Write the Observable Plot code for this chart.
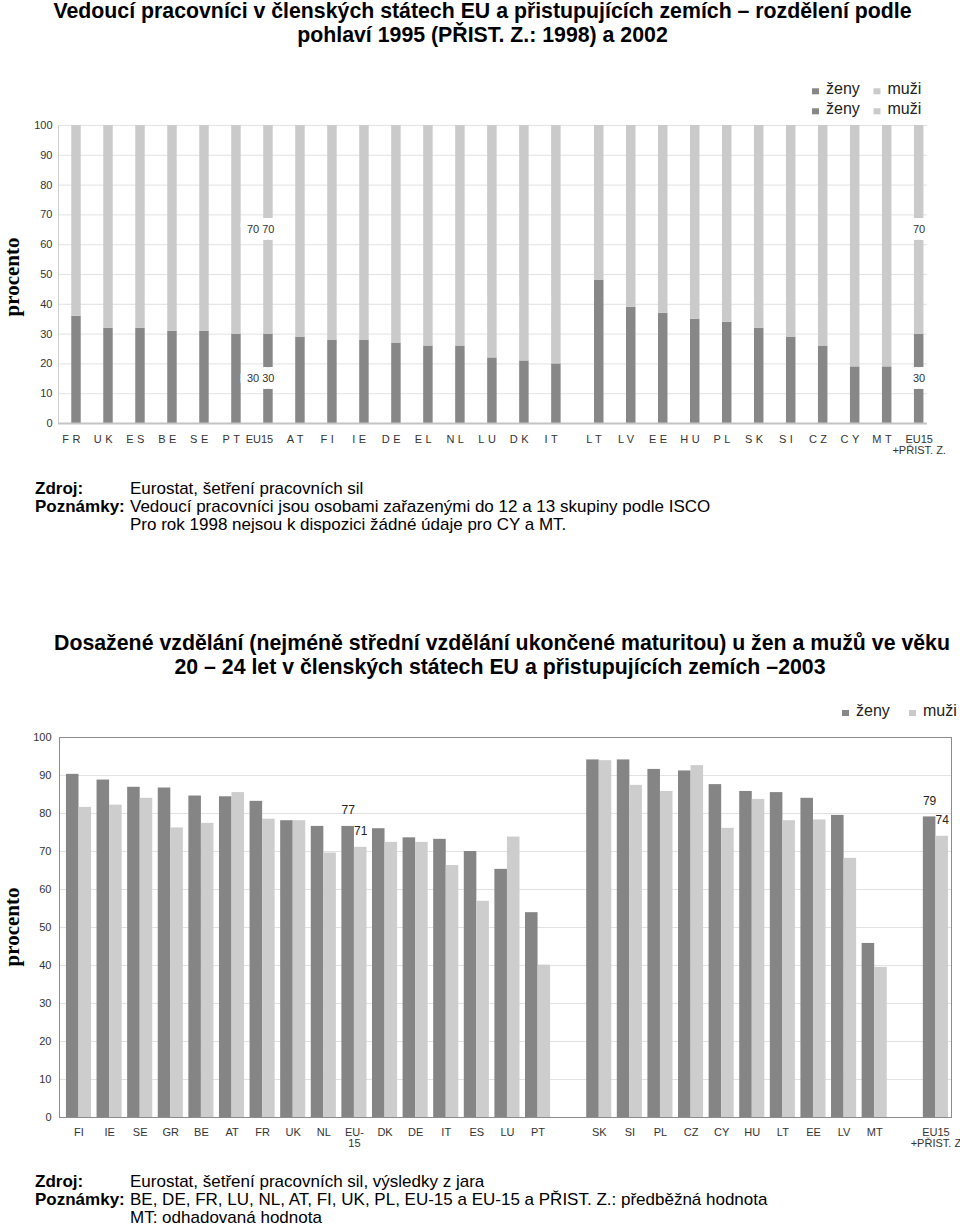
<!DOCTYPE html>
<html><head><meta charset="utf-8">
<script src="https://cdn.jsdelivr.net/npm/d3@7"></script>
<script src="https://cdn.jsdelivr.net/npm/@observablehq/plot@0.6"></script>
<style>
html,body{margin:0;padding:0;background:#fff;}
body{width:960px;height:1227px;position:relative;overflow:hidden;font-family:"Liberation Sans",Arial,sans-serif;}
.chart{position:absolute;left:0;}
#txt{position:absolute;left:0;top:0;pointer-events:none;}
</style></head><body>
<div id="c1" class="chart" style="top:115px"></div>
<div id="c2" class="chart" style="top:725px"></div>
<svg id="txt" width="960" height="1227"></svg>
<script>
// ---------------- Chart 1 data: managers by sex ----------------
const eu1 = ["FR","UK","ES","BE","SE","PT","EU15","AT","FI","IE","DE","EL","NL","LU","DK","IT"];
const acc1 = ["LT","LV","EE","HU","PL","SK","SI","CZ","CY","MT"];
const total1 = "EU15\n+PŘIST. Z.";
const women1 = [36,32,32,31,31,30,30,29,28,28,27,26,26,22,21,20, 48,39,37,35,34,32,29,26,19,19, 30];
const men1   = [64,68,68,69,69,70,70,71,72,72,73,74,74,78,79,80, 52,61,63,65,66,68,71,74,81,81, 70];
const labeled1 = ["EU15", total1];
const labelWomen1 = ["30 30", "30"];
const labelMen1 = ["70 70", "70"];

// ---------------- Chart 2 data: education attainment 2003 ----------------
const eu2 = ["FI","IE","SE","GR","BE","AT","FR","UK","NL","EU-\n15","DK","DE","IT","ES","LU","PT"];
const acc2 = ["SK","SI","PL","CZ","CY","HU","LT","EE","LV","MT"];
const total2 = "EU15\n+PŘIST. Z";
const women2 = [90.3,88.8,86.9,86.7,84.6,84.4,83.2,78.1,76.6,76.6,76.0,73.6,73.2,70.0,65.3,53.9, 94.1,94.1,91.6,91.2,87.6,85.8,85.5,84.0,79.5,45.8, 79.1];
const men2   = [81.6,82.2,84.0,76.2,77.4,85.5,78.5,78.1,69.6,71.1,72.4,72.4,66.3,56.9,73.8,40.1, 93.9,87.4,85.8,92.6,76.1,83.7,78.1,78.3,68.2,39.5, 74.0];
const labeled2 = ["EU-\n15", total2];
const labelWomen2 = ["77", "79"];
const labelMen2 = ["71", "74"];

const yTicks = [0,10,20,30,40,50,60,70,80,90,100];
const seriesNames = ["ženy", "muži"];
const colDark = "#878787", colLight = "#cacaca";

// slot positions (order-based) with group gaps
function slots(groupA, groupB, total, gapAB, gapBT) {
  const out = [];
  groupA.forEach((c, i) => out.push({c, k: i}));
  const startB = groupA.length - 1 + gapAB;
  groupB.forEach((c, j) => out.push({c, k: startB + j}));
  out.push({c: total, k: startB + groupB.length - 1 + gapBT});
  return out;
}

// ---------------- Chart 1 ----------------
const s1 = slots(eu1, acc1, total1, 1.34, 1);
const rows1 = s1.map((s, i) => ({...s, women: women1[i], men: men1[i]}));
const lab1 = labeled1.map((c, i) => {
  const r = rows1.find(d => d.c === c);
  return {k: r.k, women: r.women, men: r.men, lw: labelWomen1[i], lm: labelMen1[i]};
});
const name1 = new Map(rows1.map(d => [d.k, d.c]));
const xd1 = [-0.5625, 26.6];
const hw1 = 0.148;

const p1 = Plot.plot({
  width: 960, height: 365,
  marginTop: 10, marginBottom: 57, marginLeft: 58, marginRight: 33,
  x: {type: "linear", domain: xd1, axis: null},
  y: {domain: [0, 100], axis: null},
  style: {fontFamily: "Liberation Sans, Arial, sans-serif", fontSize: "11px", color: "#333", background: "transparent"},
  marks: [
    Plot.gridY(yTicks, {stroke: "#e2e2e2", strokeOpacity: 1}),
    Plot.ruleX([xd1[0]], {y1: 0, y2: 100, stroke: "#cfcfcf"}),
    Plot.rectY(rows1, {x1: d => d.k - hw1, x2: d => d.k + hw1, y1: 0, y2: "women", fill: colDark}),
    Plot.rectY(rows1, {x1: d => d.k - hw1, x2: d => d.k + hw1, y1: "women", y2: d => d.women + d.men, fill: colLight}),
    Plot.ruleY([0], {stroke: "#c4c4c4", strokeWidth: 2}),
    Plot.text(lab1, {x: "k", y: d => d.women / 2, text: "lw", textAnchor: "end", dx: 6, fill: "#333", stroke: "white", strokeWidth: 14, fontSize: 11}),
    Plot.text(lab1, {x: "k", y: d => d.women + d.men / 2, text: "lm", textAnchor: "end", dx: 6, fill: "#333", stroke: "white", strokeWidth: 14, fontSize: 11}),
    Plot.axisY({ticks: yTicks, tickSize: 0, tickPadding: 6, label: null}),
    Plot.axisX({ticks: rows1.map(d => d.k), tickFormat: k => name1.get(k), tickSize: 0, tickPadding: 12, label: null})
  ]
});
document.getElementById("c1").appendChild(p1);
// spaced two-letter country codes, as in the original
d3.select(p1).selectAll('[aria-label="x-axis tick label"] text').each(function() {
  const s = d3.select(this);
  const txt = s.text();
  if (txt.length === 2) s.style("letter-spacing", "3.5px").attr("dx", -3.5);
  else if (txt === "EU15") s.attr("dx", -9);
});

// ---------------- Chart 2 ----------------
const s2 = slots(eu2, acc2, total2, 2, 2);
const rows2 = s2.map((s, i) => ({...s, women: women2[i], men: men2[i]}));
const lab2 = labeled2.map((c, i) => {
  const r = rows2.find(d => d.c === c);
  return {k: r.k, women: r.women, men: r.men, lw: labelWomen2[i], lm: labelMen2[i]};
});
const name2 = new Map(rows2.map(d => [d.k, d.c]));
const xd2 = [-0.637, 28.51];
const bw2 = 0.41;

const p2 = Plot.plot({
  width: 960, height: 440,
  marginTop: 12, marginBottom: 48, marginLeft: 59, marginRight: 9,
  x: {type: "linear", domain: xd2, axis: null},
  y: {domain: [0, 100], axis: null},
  style: {fontFamily: "Liberation Sans, Arial, sans-serif", fontSize: "11px", color: "#333", background: "transparent"},
  marks: [
    Plot.gridY(yTicks, {stroke: "#e2e2e2", strokeOpacity: 1}),
    Plot.rectY(rows2, {x1: d => d.k - bw2, x2: "k", y1: 0, y2: "women", fill: "#858585"}),
    Plot.rectY(rows2, {x1: "k", x2: d => d.k + bw2, y1: 0, y2: "men", fill: "#cdcdcd"}),
    Plot.frame({stroke: "#8c8c8c"}),
    Plot.text(lab2, {x: d => d.k - bw2 / 2, y: "women", text: "lw", dy: -16, fill: "#222", fontSize: 12}),
    Plot.text(lab2, {x: d => d.k + bw2 / 2, y: "men", text: "lm", dy: -16, fill: "#222", fontSize: 12}),
    Plot.axisY({ticks: yTicks, tickSize: 0, tickPadding: 8, label: null}),
    Plot.axisX({ticks: rows2.map(d => d.k), tickFormat: k => name2.get(k), tickSize: 0, tickPadding: 11, label: null})
  ]
});
document.getElementById("c2").appendChild(p2);

// ---------------- Text layer (titles, legends, notes, axis titles) ----------------
const svg = d3.select("#txt");
function t(str, x, y, o = {}) {
  return svg.append("text").attr("x", x).attr("y", y)
    .attr("font-family", o.family || "Liberation Sans, Arial, sans-serif")
    .attr("font-size", o.size || 17)
    .attr("font-weight", o.bold ? "bold" : "normal")
    .attr("text-anchor", o.anchor || "start")
    .attr("fill", o.fill || "#000")
    .text(str);
}
// titles
t("Vedoucí pracovníci v členských státech EU a přistupujících zemích – rozdělení podle", 482.5, 17.5, {size: 21.3, bold: true, anchor: "middle"});
t("pohlaví 1995 (PŘIST. Z.: 1998) a 2002", 482.5, 41.5, {size: 21.3, bold: true, anchor: "middle"});
t("Dosažené vzdělání (nejméně střední vzdělání ukončené maturitou) u žen a mužů ve věku", 502, 649.5, {size: 21.3, bold: true, anchor: "middle"});
t("20 – 24 let v členských státech EU a přistupujících zemích –2003", 500, 673.5, {size: 21.3, bold: true, anchor: "middle"});

// legends
function legend(x0, x1, y, fs) {
  [[x0, colDark, seriesNames[0]], [x1, colLight, seriesNames[1]]].forEach(([x, c, s]) => {
    svg.append("rect").attr("x", x - 14).attr("y", y - 6).attr("width", 7).attr("height", 6).attr("fill", c);
    t(s, x, y, {size: fs, fill: "#222"});
  });
}
legend(826, 887.5, 94.3, 16);
legend(826, 887.5, 114.3, 16);
legend(856, 923, 716, 16);

// y axis titles
[[277], [927]].forEach(([cy]) => {
  svg.append("text").attr("transform", `translate(19,${cy}) rotate(-90)`)
    .attr("text-anchor", "middle").attr("font-family", "Liberation Serif, Times New Roman, serif")
    .attr("font-weight", "bold").attr("font-size", 21).attr("fill", "#000").text("procento");
});

// notes
t("Zdroj:", 35, 494, {bold: true});
t("Eurostat, šetření pracovních sil", 130, 494);
t("Poznámky:", 35, 512, {bold: true});
t("Vedoucí pracovníci jsou osobami zařazenými do 12 a 13 skupiny podle ISCO", 130, 512);
t("Pro rok 1998 nejsou k dispozici žádné údaje pro CY a MT.", 130, 529.5);

t("Zdroj:", 35, 1187, {bold: true});
t("Eurostat, šetření pracovních sil, výsledky z jara", 130, 1187);
t("Poznámky:", 35, 1205, {bold: true});
t("BE, DE, FR, LU, NL, AT, FI, UK, PL, EU-15 a EU-15 a PŘIST. Z.: předběžná hodnota", 130, 1205);
t("MT: odhadovaná hodnota", 130, 1223);
</script>
</body></html>
